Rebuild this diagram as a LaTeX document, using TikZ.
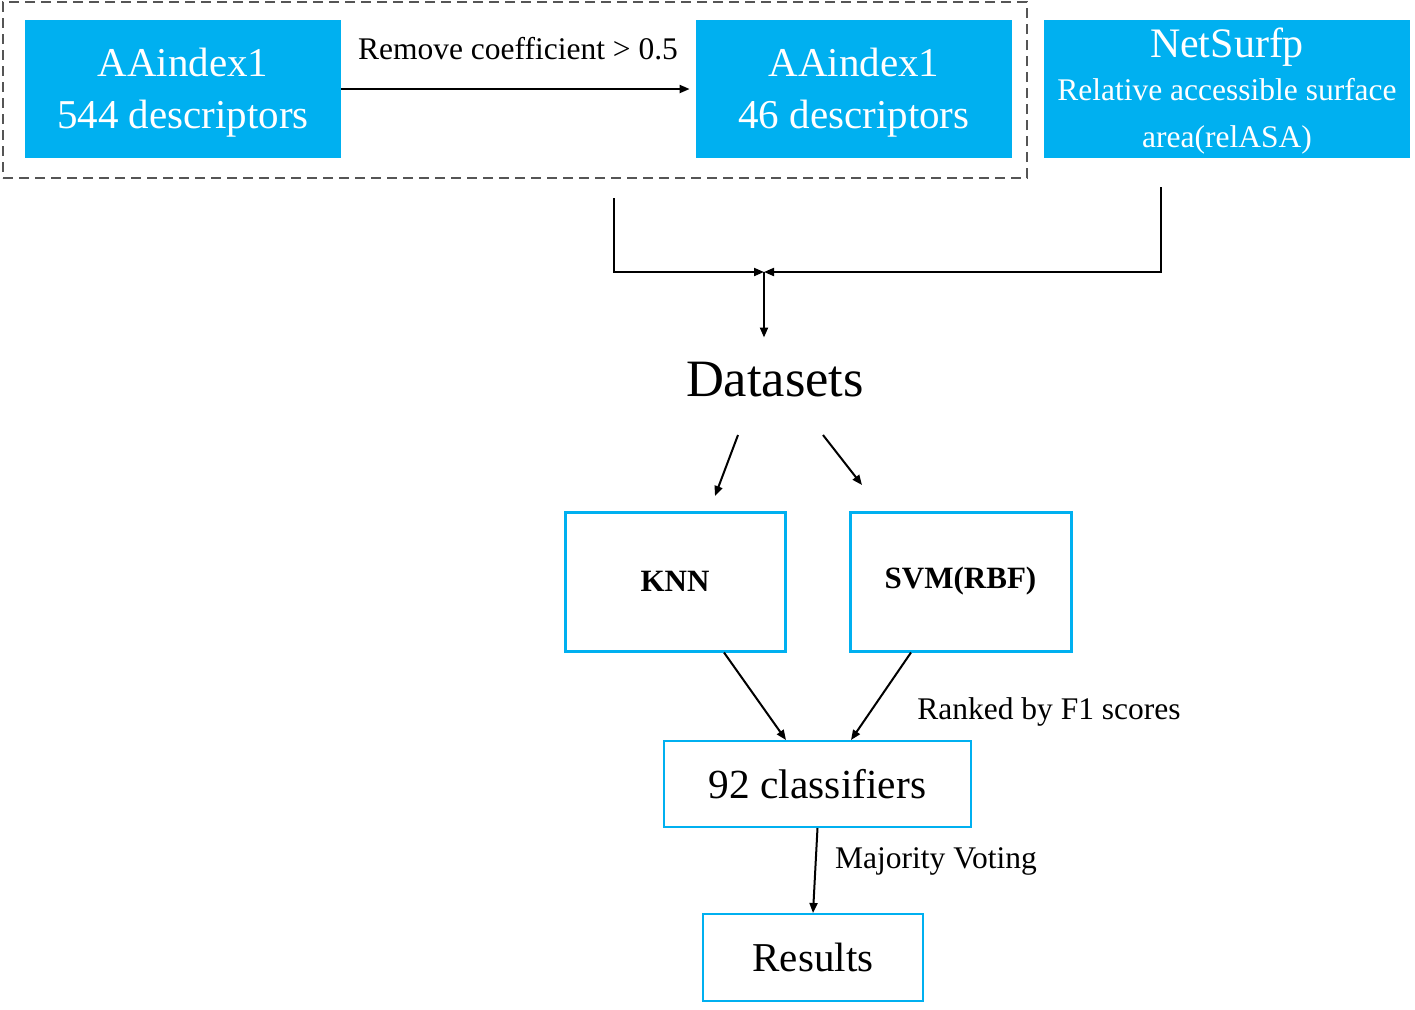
\documentclass[tikz,border=0pt]{standalone}
\usepackage{fontspec}
\setmainfont{Liberation Serif}
\usetikzlibrary{arrows.meta,calc}

\definecolor{boxblue}{HTML}{00B0F0}
\definecolor{dashgray}{HTML}{555555}

\tikzset{
  bluebox/.style={fill=boxblue, text=white, align=center, inner sep=0pt,
    font=\fontsize{20.5}{26}\selectfont},
  whitebox/.style={draw=boxblue, line width=1pt, align=center, inner sep=0pt},
  arr/.style={-{Triangle[length=5pt,width=4pt]}, line width=1pt},
  lbl/.style={font=\fontsize{15.75}{19}\selectfont, inner sep=0pt},
}

\begin{document}
\begin{tikzpicture}[x=0.5pt,y=-0.5pt]
\useasboundingbox (0,0) rectangle (1415,1009);

% feature group
\node[draw=dashgray, dash pattern=on 5pt off 3pt, line width=0.75pt,
  minimum width=512pt, minimum height=88pt, inner sep=0pt] (grp) at (515,90) {};
\node[bluebox, minimum width=158pt, minimum height=69pt] (aa1) at (183,89) {\rule{0pt}{18pt}AAindex1\\544 descriptors};
\node[bluebox, minimum width=158pt, minimum height=69pt] (aa2) at (854,89) {\rule{0pt}{18pt}AAindex1\\46 descriptors};
\node[bluebox, minimum width=183pt, minimum height=69pt, font=\fontsize{15.75}{23.5}\selectfont] (nsp) at (1227,89)
  {{\fontsize{21}{22.5}\selectfont\rule{0pt}{16.5pt}NetSurfp}\\[-2pt]Relative accessible surface\\area(relASA)};

\draw[arr, shorten >=3pt] (aa1.east) -- (aa2.west);
\node[lbl] (lrm) at (518,49) {Remove coefficient > 0.5};

% merge
\coordinate (jl) at (614,198);
\coordinate (jr) at (1161,187);
\coordinate (jn) at (764,272);
\draw[arr] (jl) |- (jn);
\draw[arr] (jr) |- (jn);

\node[font=\fontsize{26.25}{30}\selectfont] (ds) at (775,380) {Datasets};
\draw[arr, shorten >=9pt] (jn) -- (jn |- ds.north);

\coordinate (d1) at (738,435);
\coordinate (d2) at (715,496);
\coordinate (d3) at (823,435);
\coordinate (d4) at (862,485);
\draw[arr] (d1) -- (d2);
\draw[arr] (d3) -- (d4);

% classifiers
\node[whitebox, line width=1.5pt, minimum width=110pt, minimum height=69.5pt,
  font=\bfseries\fontsize{15.5}{18}\selectfont] (knn) at (675,581.5) {KNN};
\node[whitebox, line width=1.5pt, minimum width=110.5pt, minimum height=69.5pt,
  font=\bfseries\fontsize{15.5}{18}\selectfont] (svm) at (960.5,581.5) {SVM(RBF)};
\node[whitebox, minimum width=153.5pt, minimum height=43pt,
  font=\fontsize{20.7}{24}\selectfont] (clf) at (817.5,784) {92 classifiers};
\node[whitebox, minimum width=110pt, minimum height=43.5pt,
  font=\fontsize{20.5}{24}\selectfont] (res) at (813,957.5) {Results};

\draw[arr] ($(knn.south)+(49,0)$) -- ($(clf.north)+(-31.5,0)$);
\draw[arr] ($(svm.south)+(-49.5,0)$) -- ($(clf.north)+(33.5,0)$);
\node[lbl] (lrk) at (1049,712) {Ranked by F1 scores};

\draw[arr] (clf.south) -- (res.north);
\node[lbl] (lmv) at (936,861) {Majority Voting};

\end{tikzpicture}
\end{document}
